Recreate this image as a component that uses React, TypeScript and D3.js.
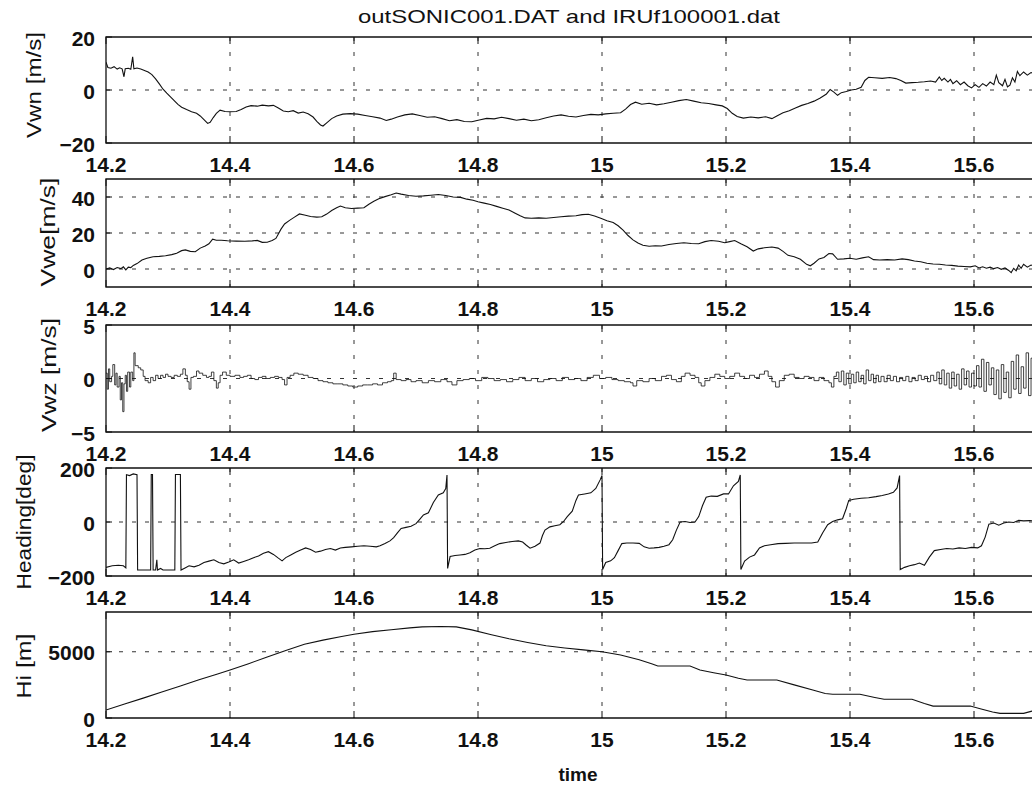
import React from "react";
import * as d3 from "d3";

// ---- data (time in hours, values per panel) ----
const title = "outSONIC001.DAT and IRUf100001.dat";
const xTicks = [14.2, 14.4, 14.6, 14.8, 15, 15.2, 15.4, 15.6];
const xTickLabels = ["14.2", "14.4", "14.6", "14.8", "15", "15.2", "15.4", "15.6"];

const vwnTicks = [-20, 0, 20];
const vweTicks = [0, 20, 40];
const vwzTicks = [-5, 0, 5];
const headingTicks = [-200, 0, 200];
const hiTicks = [0, 5000];

const vwn: [number, number][] = [
  [14.2, 10.5], [14.203, 8.5], [14.208, 8.2], [14.213, 8.8], [14.218, 7.9], [14.222, 8.4], [14.226, 8.0],
  [14.229, 5.0], [14.231, 8.0], [14.236, 8.2], [14.24, 7.8], [14.243, 12.5], [14.245, 8.0], [14.25, 8.3],
  [14.256, 7.9], [14.262, 7.4], [14.268, 6.8], [14.274, 5.8], [14.28, 4.2], [14.286, 2.3], [14.292, 0.3],
  [14.298, -1.2], [14.304, -2.6], [14.31, -4.0], [14.316, -5.4], [14.322, -6.5], [14.33, -7.4], [14.338, -8.2],
  [14.346, -8.8], [14.352, -9.8], [14.358, -11.2], [14.364, -12.6], [14.368, -12.2], [14.373, -10.4],
  [14.378, -8.8], [14.384, -7.6], [14.392, -8.1], [14.4, -8.2], [14.41, -8.1], [14.418, -7.4], [14.426, -6.4],
  [14.434, -5.9], [14.444, -6.1], [14.452, -5.7], [14.462, -6.0], [14.47, -5.8], [14.478, -6.8], [14.486, -7.9],
  [14.494, -8.2], [14.502, -7.8], [14.51, -8.7], [14.518, -8.3], [14.526, -9.0], [14.534, -10.2], [14.54, -11.8],
  [14.546, -13.2], [14.55, -13.6], [14.556, -12.4], [14.564, -10.8], [14.572, -9.8], [14.582, -9.1],
  [14.594, -8.9], [14.606, -9.1], [14.618, -9.6], [14.63, -10.1], [14.642, -10.6], [14.652, -11.5],
  [14.66, -11.0], [14.67, -10.2], [14.682, -9.4], [14.694, -9.0], [14.706, -9.6], [14.718, -10.3],
  [14.73, -10.1], [14.742, -10.8], [14.754, -11.6], [14.766, -11.2], [14.778, -11.9], [14.79, -12.0],
  [14.802, -11.3], [14.814, -10.7], [14.826, -10.9], [14.838, -10.3], [14.85, -10.8], [14.862, -11.4],
  [14.874, -11.0], [14.886, -11.6], [14.898, -11.2], [14.91, -10.5], [14.922, -9.8], [14.934, -9.4],
  [14.946, -9.9], [14.958, -10.2], [14.97, -9.6], [14.982, -9.2], [14.994, -9.4], [15.006, -9.0],
  [15.018, -8.8], [15.03, -8.6], [15.038, -7.2], [15.046, -5.5], [15.054, -4.6], [15.064, -5.4],
  [15.076, -5.0], [15.088, -5.6], [15.1, -5.2], [15.112, -4.6], [15.124, -4.0], [15.136, -3.6],
  [15.148, -4.2], [15.16, -4.8], [15.172, -5.1], [15.184, -5.6], [15.194, -6.0], [15.202, -7.0],
  [15.21, -8.8], [15.218, -10.0], [15.228, -10.6], [15.24, -10.2], [15.252, -10.5], [15.264, -10.1],
  [15.274, -10.8], [15.282, -9.8], [15.292, -8.6], [15.302, -7.8], [15.312, -6.8], [15.322, -5.8],
  [15.332, -5.1], [15.342, -4.2], [15.352, -3.0], [15.362, -1.5], [15.368, 0.2], [15.374, -0.8],
  [15.38, -2.0], [15.386, -1.0], [15.394, -0.6], [15.402, 0.0], [15.41, 0.3], [15.418, 1.0], [15.424, 3.6],
  [15.43, 4.8], [15.44, 4.6], [15.452, 4.4], [15.464, 4.7], [15.474, 4.3], [15.482, 3.6], [15.49, 2.6],
  [15.5, 2.8], [15.51, 2.9], [15.52, 3.1], [15.53, 3.4], [15.538, 3.0], [15.544, 4.9], [15.548, 3.6],
  [15.552, 4.4], [15.558, 3.0], [15.562, 4.0], [15.566, 2.4], [15.572, 3.5], [15.578, 2.0], [15.584, 3.0],
  [15.59, 1.6], [15.596, 0.8], [15.602, 2.0], [15.608, 1.0], [15.614, 2.4], [15.62, 1.5], [15.626, 3.0],
  [15.632, 2.0], [15.636, 5.6], [15.64, 2.8], [15.646, 1.6], [15.65, 4.0], [15.654, 1.2], [15.658, 1.8],
  [15.662, 4.6], [15.666, 3.0], [15.67, 7.0], [15.674, 5.4], [15.68, 6.8], [15.686, 5.6], [15.692, 6.6],
  [15.7, 6.0],
];

const vwe: [number, number][] = [
  [14.2, 0.0], [14.206, 0.6], [14.212, -0.3], [14.218, 0.8], [14.224, 0.2], [14.228, 1.2], [14.232, -0.5],
  [14.236, 1.0], [14.24, 0.8], [14.244, 2.0], [14.25, 3.0], [14.258, 5.0], [14.266, 6.0], [14.276, 6.8],
  [14.286, 7.0], [14.296, 7.4], [14.306, 8.0], [14.314, 8.8], [14.322, 10.2], [14.328, 10.6], [14.336, 9.8],
  [14.344, 9.6], [14.352, 11.6], [14.36, 12.8], [14.366, 14.0], [14.372, 16.6], [14.378, 16.0], [14.386, 16.0],
  [14.396, 15.7], [14.41, 15.5], [14.424, 15.4], [14.436, 15.6], [14.444, 15.9], [14.452, 14.8], [14.46, 14.9],
  [14.468, 15.8], [14.474, 17.0], [14.478, 19.5], [14.482, 22.0], [14.488, 25.0], [14.496, 27.0],
  [14.504, 28.8], [14.512, 30.6], [14.52, 30.0], [14.53, 29.2], [14.54, 28.8], [14.548, 29.0], [14.556, 30.5],
  [14.564, 32.5], [14.572, 34.0], [14.578, 35.0], [14.586, 34.0], [14.596, 33.6], [14.606, 33.8],
  [14.616, 34.0], [14.624, 36.0], [14.632, 37.6], [14.64, 39.0], [14.65, 40.2], [14.66, 41.2], [14.668, 42.2],
  [14.676, 41.6], [14.688, 40.8], [14.7, 40.4], [14.712, 40.6], [14.724, 41.0], [14.736, 41.4], [14.748, 40.8],
  [14.76, 40.0], [14.772, 39.8], [14.782, 38.8], [14.792, 38.2], [14.8, 37.4], [14.81, 36.6], [14.82, 35.8],
  [14.83, 34.8], [14.84, 33.8], [14.85, 32.8], [14.86, 31.0], [14.868, 29.6], [14.876, 28.4], [14.886, 28.2],
  [14.898, 28.4], [14.91, 28.2], [14.922, 28.6], [14.934, 29.0], [14.946, 29.4], [14.958, 29.6],
  [14.968, 30.2], [14.978, 30.4], [14.988, 29.4], [14.998, 28.2], [15.008, 26.8], [15.018, 25.8],
  [15.026, 24.0], [15.034, 21.6], [15.042, 18.6], [15.05, 16.2], [15.058, 14.4], [15.066, 13.2],
  [15.076, 12.6], [15.086, 12.9], [15.096, 12.8], [15.108, 13.6], [15.12, 14.2], [15.132, 14.6],
  [15.144, 14.2], [15.156, 14.0], [15.166, 15.2], [15.176, 15.8], [15.188, 15.4], [15.198, 14.6],
  [15.206, 15.2], [15.214, 15.8], [15.224, 14.0], [15.234, 12.4], [15.244, 10.0], [15.252, 11.2],
  [15.262, 11.8], [15.274, 12.2], [15.284, 11.6], [15.292, 9.8], [15.3, 7.6], [15.31, 6.8], [15.32, 5.4],
  [15.33, 2.6], [15.336, 1.8], [15.342, 3.2], [15.35, 5.6], [15.358, 6.4], [15.366, 8.6], [15.372, 8.4],
  [15.38, 5.4], [15.39, 5.6], [15.4, 6.0], [15.41, 5.4], [15.42, 6.2], [15.43, 6.8], [15.438, 5.2],
  [15.448, 5.0], [15.46, 5.2], [15.472, 5.0], [15.484, 5.6], [15.494, 5.2], [15.504, 4.4], [15.514, 4.0],
  [15.524, 3.2], [15.534, 2.8], [15.544, 2.6], [15.554, 2.2], [15.564, 2.0], [15.574, 1.6], [15.584, 1.4],
  [15.594, 1.2], [15.602, 1.8], [15.608, 0.6], [15.614, 1.2], [15.62, 0.4], [15.626, 1.0], [15.632, 0.2],
  [15.638, 0.8], [15.644, -0.2], [15.65, 0.6], [15.656, -0.8], [15.66, -2.0], [15.664, 0.4], [15.668, -1.0],
  [15.672, 2.2], [15.676, 0.4], [15.68, 2.6], [15.686, 1.0], [15.692, 2.2], [15.7, 1.5],
];

const vwz: [number, number][] = [
  [14.2, 0.5], [14.202, -1.0], [14.204, 0.9], [14.206, -0.3], [14.209, 0.2], [14.211, 1.3], [14.214, -0.6],
  [14.216, 0.5], [14.218, -0.8], [14.221, 0.2], [14.223, -2.0], [14.225, -0.4], [14.227, -3.1], [14.229, -0.5],
  [14.231, 0.3], [14.233, -1.2], [14.235, 0.6], [14.238, -0.8], [14.24, 0.6], [14.243, -0.2], [14.245, 2.4],
  [14.247, 1.2], [14.252, 1.0], [14.256, 0.8], [14.26, 0.2], [14.263, -0.2], [14.268, -0.4], [14.272, 0.1],
  [14.276, -0.2], [14.28, 0.3], [14.284, 0.0], [14.288, 0.3], [14.292, 0.1], [14.296, 0.4], [14.3, 0.2],
  [14.305, 0.1], [14.31, 0.3], [14.315, 0.2], [14.32, 0.4], [14.324, 0.9], [14.328, 0.3], [14.331, -0.3],
  [14.334, -1.0], [14.337, 0.1], [14.341, 0.2], [14.346, 0.7], [14.35, 0.5], [14.356, 0.3], [14.362, 0.1],
  [14.366, 0.2], [14.37, 0.6], [14.374, -0.2], [14.378, -0.9], [14.381, -0.4], [14.384, 0.3], [14.388, 0.6],
  [14.394, 0.3], [14.4, 0.2], [14.408, 0.3], [14.416, 0.1], [14.422, 0.2], [14.428, 0.3], [14.434, 0.0],
  [14.44, -0.1], [14.446, 0.1], [14.452, 0.2], [14.458, 0.0], [14.465, 0.1], [14.472, 0.2], [14.478, 0.1],
  [14.484, -0.1], [14.488, -0.6], [14.492, 0.1], [14.497, 0.3], [14.503, 0.5], [14.51, 0.4], [14.518, 0.3],
  [14.526, 0.1], [14.534, 0.0], [14.542, -0.2], [14.55, -0.3], [14.558, -0.4], [14.566, -0.5], [14.574, -0.5],
  [14.582, -0.6], [14.59, -0.7], [14.598, -0.8], [14.606, -0.7], [14.614, -0.6], [14.622, -0.6], [14.63, -0.5],
  [14.638, -0.6], [14.646, -0.4], [14.654, -0.3], [14.66, -0.2], [14.664, 0.5], [14.668, -0.1], [14.676, -0.2],
  [14.684, -0.1], [14.692, -0.3], [14.7, -0.2], [14.71, -0.4], [14.72, -0.2], [14.73, -0.3], [14.74, -0.1],
  [14.75, -0.3], [14.758, -0.6], [14.766, -0.2], [14.776, -0.1], [14.786, 0.0], [14.796, -0.2], [14.806, 0.1],
  [14.816, 0.0], [14.826, -0.2], [14.836, -0.1], [14.846, -0.3], [14.856, -0.1], [14.866, 0.1], [14.876, -0.2],
  [14.886, 0.0], [14.896, -0.3], [14.906, -0.1], [14.916, 0.0], [14.926, -0.2], [14.936, 0.1], [14.946, -0.1],
  [14.956, 0.0], [14.966, -0.2], [14.976, 0.1], [14.986, 0.3], [14.996, 0.0], [15.006, 0.1], [15.016, -0.1],
  [15.026, -0.2], [15.036, -0.3], [15.046, -0.4], [15.05, -0.7], [15.056, -0.2], [15.066, -0.3], [15.076, 0.0],
  [15.086, -0.2], [15.096, 0.2], [15.104, 0.3], [15.112, -0.1], [15.12, -0.3], [15.128, 0.2], [15.134, 0.5],
  [15.142, 0.3], [15.15, 0.1], [15.156, -0.4], [15.16, -0.7], [15.166, -0.2], [15.174, 0.1], [15.182, 0.4],
  [15.19, 0.2], [15.198, 0.0], [15.206, 0.2], [15.214, 0.5], [15.222, 0.2], [15.23, 0.0], [15.238, 0.3],
  [15.246, 0.1], [15.254, 0.4], [15.262, 0.7], [15.268, 0.2], [15.274, -0.3], [15.28, -0.8], [15.286, -0.2],
  [15.294, 0.3], [15.302, 0.4], [15.31, 0.1], [15.318, 0.0], [15.326, 0.2], [15.334, 0.1], [15.342, -0.2],
  [15.35, 0.1], [15.358, -0.2], [15.366, -0.4], [15.37, -0.8], [15.374, 0.2], [15.378, 0.6], [15.382, -0.3],
  [15.386, 0.7], [15.39, -0.6], [15.394, 0.5], [15.398, -0.5], [15.402, 0.4], [15.406, -0.4], [15.41, 0.6],
  [15.414, -0.3], [15.418, 0.3], [15.422, -0.5], [15.426, 0.8], [15.43, -0.2], [15.434, 0.4], [15.438, -0.4],
  [15.442, 0.3], [15.446, -0.3], [15.45, 0.2], [15.455, -0.3], [15.46, 0.3], [15.465, -0.2], [15.47, 0.2],
  [15.475, -0.3], [15.48, 0.1], [15.485, -0.2], [15.49, 0.2], [15.495, -0.3], [15.5, 0.1], [15.505, -0.2],
  [15.51, 0.3], [15.515, -0.1], [15.52, 0.2], [15.525, -0.3], [15.53, 0.3], [15.535, -0.2], [15.54, 0.6],
  [15.544, -0.5], [15.548, 0.8], [15.552, -0.6], [15.556, 0.5], [15.56, -0.9], [15.564, 0.6], [15.568, -0.7],
  [15.572, 0.4], [15.576, -1.0], [15.58, 0.9], [15.584, -0.6], [15.588, 0.7], [15.592, -0.8], [15.596, 0.5],
  [15.6, -0.7], [15.604, 1.2], [15.608, -0.8], [15.612, 1.8], [15.616, -1.2], [15.62, 1.5], [15.624, -0.6],
  [15.628, 1.0], [15.632, -1.5], [15.636, 0.8], [15.64, -1.9], [15.644, 1.3], [15.648, -1.3], [15.652, 0.6],
  [15.656, -1.8], [15.66, 1.6], [15.664, -1.0], [15.668, 2.2], [15.672, -1.4], [15.676, 1.1], [15.68, -0.9],
  [15.684, 2.4], [15.688, -1.6], [15.692, 1.9], [15.696, -1.2], [15.7, 0.8],
];

const heading: [number, number][] = [
  [14.2, -168], [14.21, -162], [14.22, -160], [14.228, -162], [14.232, -170], [14.233, 175], [14.238, 172],
  [14.244, 178], [14.25, 175], [14.251, -178], [14.272, -178], [14.273, 176], [14.275, 176], [14.276, -178],
  [14.28, -178], [14.282, -140], [14.283, -178], [14.288, -172], [14.292, -178], [14.311, -178], [14.312, 176],
  [14.32, 176], [14.321, -178], [14.326, -172], [14.334, -162], [14.342, -166], [14.35, -160], [14.358, -150],
  [14.366, -145], [14.374, -140], [14.382, -150], [14.39, -155], [14.398, -148], [14.406, -140], [14.414, -152],
  [14.422, -146], [14.43, -140], [14.438, -132], [14.446, -126], [14.454, -116], [14.462, -110], [14.47, -120],
  [14.478, -134], [14.484, -144], [14.49, -132], [14.498, -122], [14.506, -112], [14.514, -104], [14.522, -96],
  [14.53, -102], [14.538, -112], [14.546, -108], [14.554, -102], [14.562, -98], [14.57, -104], [14.578, -96],
  [14.586, -94], [14.596, -92], [14.606, -90], [14.616, -88], [14.626, -90], [14.636, -92], [14.642, -88],
  [14.65, -80], [14.658, -70], [14.664, -58], [14.67, -40], [14.676, -24], [14.684, -20], [14.692, -16],
  [14.7, -6], [14.706, 10], [14.712, 26], [14.72, 34], [14.728, 72], [14.736, 100], [14.744, 108],
  [14.748, 124], [14.75, 174], [14.751, -172], [14.755, -128], [14.763, -124], [14.771, -122], [14.779, -120],
  [14.787, -114], [14.795, -104], [14.803, -98], [14.811, -99], [14.819, -97], [14.827, -88], [14.835, -80],
  [14.845, -76], [14.855, -72], [14.865, -70], [14.872, -74], [14.878, -86], [14.884, -97], [14.892, -90],
  [14.9, -78], [14.904, -50], [14.908, -30], [14.916, -18], [14.924, -14], [14.932, -10], [14.938, 2],
  [14.944, 20], [14.952, 40], [14.958, 80], [14.962, 100], [14.972, 104], [14.982, 108], [14.99, 124],
  [14.997, 156], [15.0, 172], [15.001, -176], [15.006, -150], [15.014, -144], [15.02, -132], [15.026, -106],
  [15.032, -80], [15.04, -78], [15.05, -78], [15.06, -79], [15.068, -92], [15.076, -97], [15.084, -96],
  [15.092, -94], [15.1, -90], [15.108, -84], [15.114, -66], [15.12, -30], [15.126, 0], [15.134, 2],
  [15.142, -2], [15.15, 0], [15.156, 20], [15.162, 60], [15.168, 92], [15.176, 96], [15.186, 95],
  [15.196, 104], [15.204, 104], [15.212, 134], [15.22, 150], [15.223, 174], [15.224, -176], [15.23, -145],
  [15.238, -130], [15.246, -122], [15.254, -96], [15.262, -88], [15.272, -84], [15.284, -80], [15.296, -79],
  [15.31, -78], [15.324, -78], [15.338, -78], [15.348, -74], [15.356, -40], [15.364, -10], [15.372, 2],
  [15.38, 8], [15.388, 12], [15.394, 50], [15.398, 80], [15.406, 84], [15.418, 88], [15.43, 90],
  [15.442, 94], [15.452, 98], [15.462, 104], [15.47, 110], [15.476, 126], [15.48, 172], [15.481, -176],
  [15.488, -168], [15.496, -162], [15.504, -158], [15.512, -152], [15.52, -160], [15.528, -130],
  [15.536, -106], [15.546, -102], [15.556, -98], [15.566, -100], [15.576, -96], [15.586, -98], [15.596, -94],
  [15.606, -96], [15.612, -88], [15.618, -56], [15.624, -8], [15.632, -4], [15.64, -12], [15.648, -4],
  [15.656, 0], [15.664, -2], [15.672, 6], [15.68, 4], [15.69, 5], [15.7, 4],
];

const hi: [number, number][] = [
  [14.2, 600], [14.23, 1050], [14.26, 1500], [14.29, 1960], [14.32, 2420], [14.35, 2880], [14.38, 3320],
  [14.4, 3620], [14.43, 4100], [14.46, 4600], [14.49, 5100], [14.52, 5560], [14.55, 5880], [14.58, 6150],
  [14.6, 6320], [14.63, 6520], [14.66, 6660], [14.69, 6800], [14.71, 6880], [14.74, 6900], [14.765, 6880],
  [14.79, 6650], [14.82, 6300], [14.85, 5980], [14.88, 5700], [14.91, 5450], [14.94, 5280], [14.97, 5140],
  [15.0, 5000], [15.03, 4760], [15.06, 4400], [15.08, 4100], [15.09, 3930], [15.142, 3930], [15.158, 3620],
  [15.18, 3420], [15.2, 3250], [15.22, 3000], [15.234, 2870], [15.282, 2870], [15.31, 2500], [15.34, 2110],
  [15.36, 1850], [15.372, 1790], [15.416, 1790], [15.44, 1550], [15.455, 1410], [15.5, 1410], [15.52, 1100],
  [15.534, 900], [15.594, 900], [15.61, 700], [15.63, 450], [15.642, 350], [15.68, 350], [15.692, 500],
  [15.7, 600],
];

// ---- layout ----
const W = 1032;
const H = 785;
const LEFT = 106;
const RIGHT = 1036;
const FONT = "'Liberation Sans', Arial, sans-serif";

const x = d3.scaleLinear().domain([14.2, 15.7]).range([LEFT, RIGHT]);

const panels = [
  { id: "vwn", label: "Vwn [m/s]", data: vwn, ticks: vwnTicks, domain: [-20, 20], top: 37, bottom: 143, lx: 34, ly: 85, llen: 106, step: false, sw: 1.1 },
  { id: "vwe", label: "Vwe[m/s]", data: vwe, ticks: vweTicks, domain: [-10, 50], top: 179, bottom: 287, lx: 48, ly: 232, llen: 109, step: false, sw: 1.1 },
  { id: "vwz", label: "Vwz [m/s]", data: vwz, ticks: vwzTicks, domain: [-5, 5], top: 325, bottom: 432, lx: 49, ly: 375, llen: 114, step: true, sw: 0.8 },
  { id: "hdg", label: "Heading[deg]", data: heading, ticks: headingTicks, domain: [-200, 200], top: 468, bottom: 576, lx: 24, ly: 522, llen: 135, step: false, sw: 1.1 },
  { id: "hi", label: "Hi [m]", data: hi, ticks: hiTicks, domain: [0, 8000], top: 612, bottom: 718, lx: 24, ly: 666, llen: 65, step: false, sw: 1.1 },
];

const fmtY = (v: number) => (v < 0 ? "\u2212" + Math.abs(v) : String(v));

function Panel({ p }: { p: (typeof panels)[number] }) {
  const y = d3.scaleLinear().domain(p.domain).range([p.bottom, p.top]);
  const line = d3
    .line<[number, number]>()
    .x((d) => x(d[0]))
    .y((d) => y(d[1]))
    .curve(p.step ? d3.curveStepAfter : d3.curveLinear);

  return (
    <g>
      <clipPath id={`clip-${p.id}`}>
        <rect x={LEFT} y={p.top - 1} width={RIGHT - LEFT} height={p.bottom - p.top + 2} />
      </clipPath>

      {/* grid */}
      {xTicks.slice(1).map((t) => (
        <line key={`gx${t}`} x1={x(t)} x2={x(t)} y1={p.top} y2={p.bottom}
          stroke="#333" strokeWidth={1} strokeDasharray="4,11" />
      ))}
      {p.ticks
        .filter((t) => t !== p.domain[0] && t !== p.domain[1])
        .map((t) => (
          <line key={`gy${t}`} x1={LEFT} x2={RIGHT} y1={y(t)} y2={y(t)}
            stroke="#333" strokeWidth={1} strokeDasharray="4,9" />
        ))}

      {/* ticks, pointing inward */}
      {xTicks.map((t) => (
        <g key={`tx${t}`} stroke="#111" strokeWidth={1}>
          <line x1={x(t)} x2={x(t)} y1={p.top} y2={p.top + 7} />
          <line x1={x(t)} x2={x(t)} y1={p.bottom} y2={p.bottom - 7} />
        </g>
      ))}
      {p.ticks.map((t) => (
        <line key={`ty${t}`} x1={LEFT} x2={LEFT + 6} y1={y(t)} y2={y(t)} stroke="#111" strokeWidth={1} />
      ))}

      {/* data */}
      <path d={line(p.data) ?? ""} fill="none" stroke="#111" strokeWidth={p.sw}
        clipPath={`url(#clip-${p.id})`} />

      {/* frame */}
      <path d={`M${RIGHT},${p.top}H${LEFT}V${p.bottom}H${RIGHT}`} fill="none" stroke="#111" strokeWidth={1.3} />

      {/* tick labels */}
      {xTicks.map((t, i) => (
        <text key={`lx${t}`} x={x(t)} y={p.bottom + 29} textAnchor="middle"
          fontFamily={FONT} fontSize={21} fontWeight="bold" fill="#111">
          {xTickLabels[i]}
        </text>
      ))}
      {p.ticks.map((t) => (
        <text key={`ly${t}`} x={95} y={y(t) + 8.5} textAnchor="end"
          fontFamily={FONT} fontSize={21} fontWeight="bold" fill="#111">
          {fmtY(t)}
        </text>
      ))}

      <text transform={`translate(${p.lx},${p.ly}) rotate(-90)`} textAnchor="middle"
        dominantBaseline="central" fontFamily={FONT} fontSize={20} fill="#111"
        textLength={p.llen} lengthAdjust="spacingAndGlyphs">
        {p.label}
      </text>
    </g>
  );
}

export default function App() {
  return (
    <svg width={W} height={H} style={{ position: "absolute", left: 0, top: 0, background: "#fff" }}>
      <rect width={W} height={H} fill="#fff" />
      <text x={569} y={23} textAnchor="middle" fontFamily={FONT} fontSize={19} fill="#111"
        textLength={422} lengthAdjust="spacingAndGlyphs">
        {title}
      </text>
      {panels.map((p) => (
        <Panel key={p.id} p={p} />
      ))}
      <text x={578} y={781} textAnchor="middle" fontFamily={FONT} fontSize={19} fontWeight="bold" fill="#111">
        time
      </text>
    </svg>
  );
}
